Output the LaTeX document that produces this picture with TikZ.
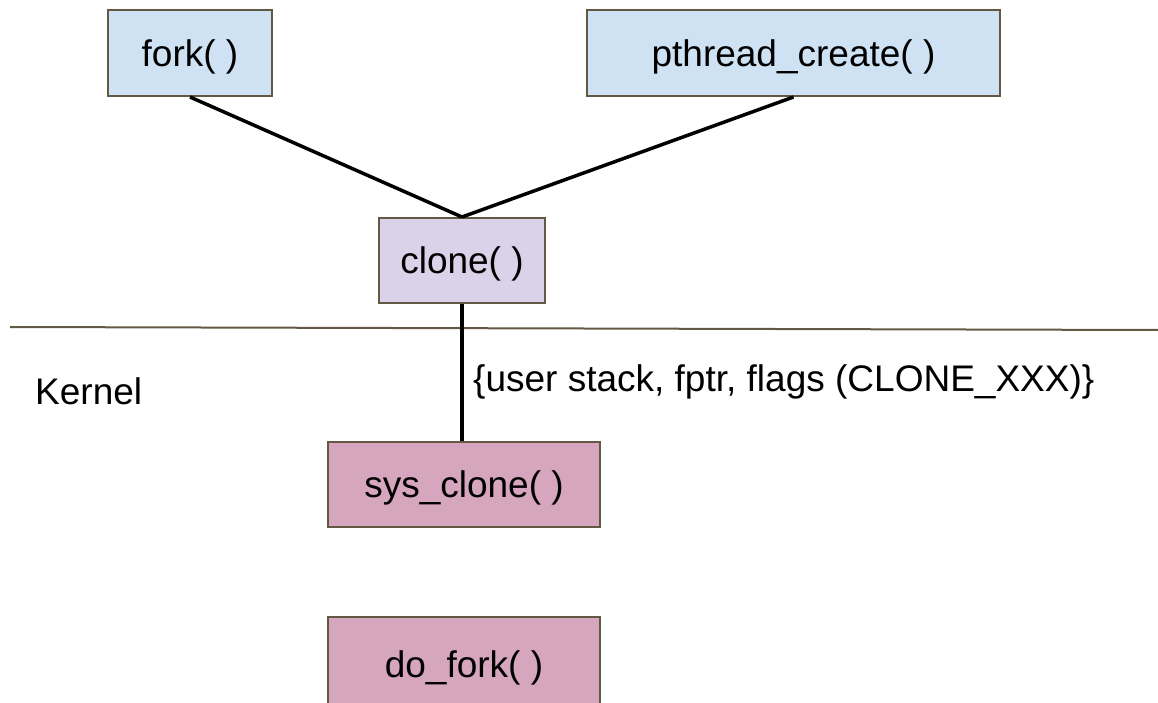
\documentclass[tikz,border=0pt]{standalone}
\usepackage{fontspec}
\setmainfont{Liberation Sans}
\definecolor{userblue}{HTML}{CFE2F3}
\definecolor{clonelilac}{HTML}{D9D2E9}
\definecolor{kernelpink}{HTML}{D5A6BD}
\definecolor{edgebrown}{RGB}{98,88,68}
\tikzset{
  callbox/.style={draw=edgebrown, line width=2pt, inner sep=0pt, text depth=0pt,
    font=\fontsize{37}{44}\selectfont},
  link/.style={line width=3.5pt, black},
  caption/.style={inner sep=0pt, font=\fontsize{37}{44}\selectfont}
}
\begin{document}
\begin{tikzpicture}[x=1pt, y=-1pt]
\useasboundingbox (0,0) rectangle (1158,703);
% user-space calls
\node[callbox, fill=userblue, minimum width=164pt, minimum height=86pt] (fork) at (190,53) {fork( )};
\node[callbox, fill=userblue, minimum width=413pt, minimum height=86pt] (pthread) at (793.5,53) {pthread\_create( )};
\node[callbox, fill=clonelilac, minimum width=166pt, minimum height=85pt] (clone) at (462,260.5) {clone( )};
% user/kernel boundary
\coordinate (bl) at (10,327);
\coordinate (br) at (1158,330);
\draw[edgebrown, line width=2pt] (bl) -- (br);
\node[caption, anchor=base west] (kernel) at (35,404) {Kernel};
% kernel-side calls
\node[callbox, fill=kernelpink, minimum width=272pt, minimum height=85pt] (sys) at (464,484.5) {sys\_clone( )};
\node[callbox, fill=kernelpink, minimum width=272pt, minimum height=92pt] (dofork) at (464,663) {};
\node[caption, anchor=base] (doforktext) at (464,677) {do\_fork( )};
% connectors
\draw[link] (fork.south) -- (clone.north);
\draw[link] (pthread.south) -- (clone.north);
\draw[link] (clone.south) -- (clone.south |- sys.north);
\node[caption, anchor=base west] (args) at (473,391) {\{user stack, fptr, flags (CLONE\_XXX)\}};
\end{tikzpicture}
\end{document}
